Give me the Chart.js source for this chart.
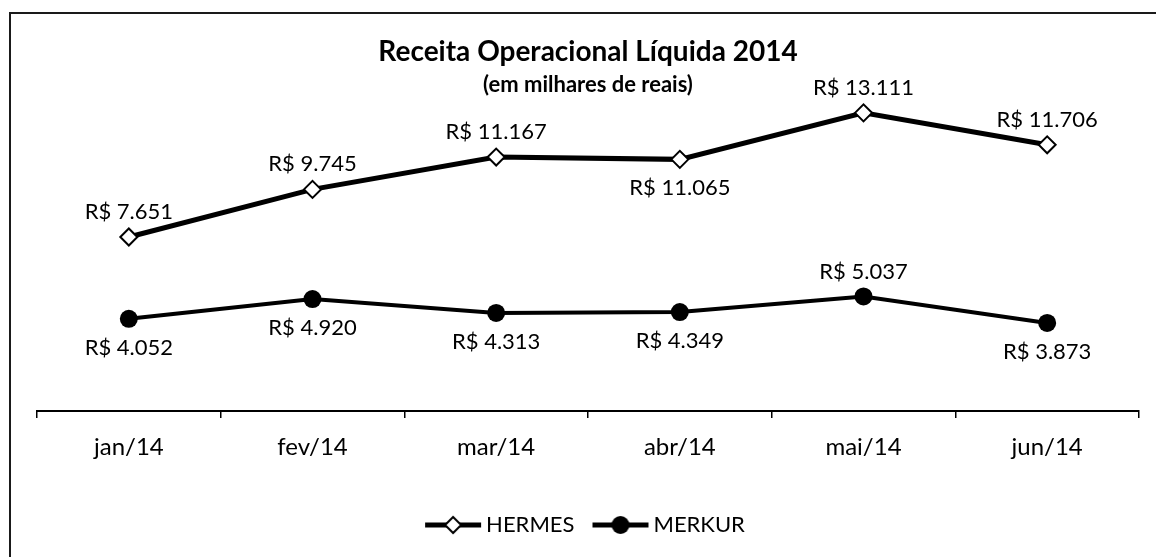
<!DOCTYPE html>
<html lang="pt-BR">
<head>
<meta charset="utf-8">
<title>Receita Operacional Líquida 2014</title>
<script src="https://cdn.jsdelivr.net/npm/chart.js@4.4.1/dist/chart.umd.min.js"></script>
<style>
  html, body { margin: 0; padding: 0; background: #fff; overflow: hidden; }
  #moldura { position: absolute; left: 9px; top: 12px; width: 1147px; height: 545px;
             border-left: 2px solid #1a1a1a; border-top: 2px solid #1a1a1a; box-sizing: border-box; }
  #area { position: absolute; left: 0; top: 0; width: 1156px; height: 557px; }
</style>
</head>
<body>
<div id="moldura"></div>
<div id="area"><canvas id="graficoReceita"></canvas></div>
<script>
const meses = ["jan/14", "fev/14", "mar/14", "abr/14", "mai/14", "jun/14"];
const valoresHermes = [7651, 9745, 11167, 11065, 13111, 11706];
const valoresMerkur = [4052, 4920, 4313, 4349, 5037, 3873];

// -1 = rótulo acima do ponto, 1 = abaixo
const ladoHermes = [-1, -1, -1, 1, -1, -1];
const ladoMerkur = [1, 1, 1, 1, -1, 1];

const formataReais = (v) => "R$ " + String(v).replace(/\B(?=(\d{3})+(?!\d))/g, ".");

Chart.defaults.font.family = "Lato, 'DejaVu Sans', sans-serif";
Chart.defaults.color = "#000";

// ícone da legenda: linha com o marcador no meio
function iconeLegenda(tipo) {
  const c = document.createElement("canvas");
  c.width = 58;
  c.height = 22;
  const g = c.getContext("2d");
  g.strokeStyle = "#000";
  g.lineWidth = 5;
  g.beginPath();
  g.moveTo(1, 11);
  g.lineTo(57, 11);
  g.stroke();
  if (tipo === "losango") {
    g.beginPath();
    g.moveTo(29, 3);
    g.lineTo(37, 11);
    g.lineTo(29, 19);
    g.lineTo(21, 11);
    g.closePath();
    g.fillStyle = "#fff";
    g.fill();
    g.lineWidth = 2;
    g.stroke();
  } else {
    g.beginPath();
    g.arc(29, 11, 9, 0, Math.PI * 2);
    g.fillStyle = "#000";
    g.fill();
  }
  return c;
}

const icones = [iconeLegenda("losango"), iconeLegenda("circulo")];

const rotulosValores = {
  id: "rotulosValores",
  afterDatasetsDraw(chart) {
    const ctx = chart.ctx;
    ctx.save();
    ctx.font = "22px Lato, 'DejaVu Sans', sans-serif";
    ctx.fillStyle = "#000";
    ctx.textAlign = "center";
    ctx.textBaseline = "middle";
    chart.data.datasets.forEach((ds, i) => {
      const meta = chart.getDatasetMeta(i);
      meta.data.forEach((pt, j) => {
        const dy = ds.lados[j] < 0 ? -25 : 29;
        ctx.fillText(formataReais(ds.data[j]), pt.x, pt.y + dy);
      });
    });
    ctx.restore();
  }
};

const ctxReceita = document.getElementById("graficoReceita");
new Chart(ctxReceita, {
  type: "line",
  data: {
    labels: meses,
    datasets: [
      {
        label: "HERMES",
        data: valoresHermes,
        lados: ladoHermes,
        borderColor: "#000",
        borderWidth: 5,
        pointStyle: "rectRot",
        pointRadius: 8.5,
        pointBackgroundColor: "#fff",
        pointBorderColor: "#000",
        pointBorderWidth: 2,
        tension: 0,
        clip: false
      },
      {
        label: "MERKUR",
        data: valoresMerkur,
        lados: ladoMerkur,
        borderColor: "#000",
        borderWidth: 4,
        pointStyle: "circle",
        pointRadius: 9,
        pointBackgroundColor: "#000",
        pointBorderColor: "#000",
        pointBorderWidth: 0,
        tension: 0,
        clip: false
      }
    ]
  },
  options: {
    responsive: true,
    maintainAspectRatio: false,
    animation: false,
    layout: { padding: { left: 37, right: 17, top: 0, bottom: 11 } },
    plugins: {
      title: {
        display: true,
        text: "Receita Operacional Líquida 2014",
        color: "#000",
        font: { size: 28, weight: "bold" },
        padding: { top: 35, bottom: 0 }
      },
      subtitle: {
        display: true,
        text: "(em milhares de reais)",
        color: "#000",
        font: { size: 22, weight: "bold" },
        padding: { top: 3, bottom: 6 }
      },
      legend: {
        position: "bottom",
        labels: {
          usePointStyle: true,
          pointStyleWidth: 44,
          padding: 24,
          color: "#000",
          font: { size: 22 },
          generateLabels: (chart) => chart.data.datasets.map((ds, i) => ({
            text: ds.label,
            pointStyle: icones[i],
            fillStyle: "#000",
            strokeStyle: "#000",
            lineWidth: 0,
            hidden: false,
            datasetIndex: i,
            fontColor: "#000"
          }))
        }
      },
      tooltip: { enabled: false }
    },
    scales: {
      x: {
        offset: true,
        grid: {
          offset: true,
          drawOnChartArea: false,
          drawTicks: true,
          tickLength: 7,
          color: "#000",
          lineWidth: 1.5
        },
        border: { display: true, color: "#000", width: 2 },
        ticks: { color: "#000", font: { size: 24 }, padding: 15 },
        afterFit: (scale) => { scale.height = 79; }
      },
      y: {
        display: false,
        min: 0,
        max: 13500
      }
    }
  },
  plugins: [rotulosValores]
});
</script>
</body>
</html>
